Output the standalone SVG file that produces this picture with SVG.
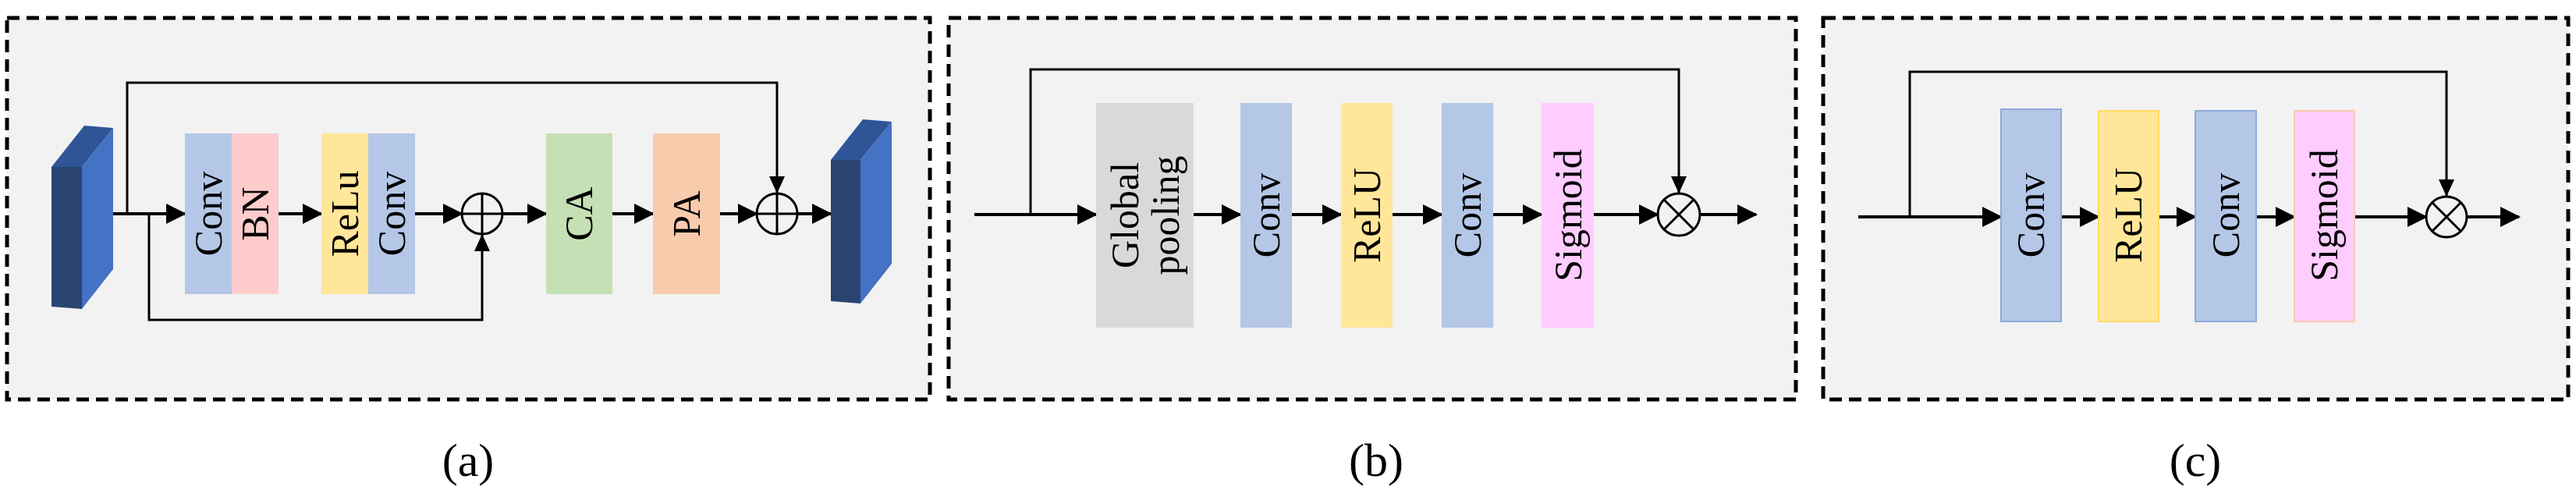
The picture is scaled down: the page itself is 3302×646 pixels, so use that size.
<svg xmlns="http://www.w3.org/2000/svg" width="3302" height="646" viewBox="0 0 3302 646">
<style>
.panel{fill:#f2f2f2;stroke:#000;stroke-width:5;stroke-dasharray:16 9}
.ln{fill:none;stroke:#000;stroke-width:3}
.ar{fill:none;stroke:#000;stroke-width:4;marker-end:url(#ah)}
.lbl{font-family:"Liberation Serif",serif;font-size:50px;fill:#000;text-anchor:middle;dominant-baseline:central}
.cap{font-family:"Liberation Serif",serif;font-size:60px;fill:#000;text-anchor:middle}
.op{fill:none;stroke:#000;stroke-width:3}
</style>
<defs>
<marker id="ah" markerUnits="userSpaceOnUse" markerWidth="26" markerHeight="26" refX="24" refY="13" orient="auto">
<path d="M0,0 L26,13 L0,26 Z" fill="#000"/>
</marker>
</defs>
<rect class="panel" x="9" y="23" width="1183" height="489"/>
<rect class="panel" x="1216" y="23" width="1086" height="489"/>
<rect class="panel" x="2337" y="23" width="955" height="489"/>
<g id="connectors">
<path class="ln" d="M145,274 H163 V106 H996 V248"/>
<path d="M986,226 L1006,226 L996,248 Z"/>
<path class="ar" d="M145,274 H237"/>
<path class="ln" d="M191,274 V410 H618 V300"/>
<path d="M608,322 L628,322 L618,300 Z"/>
<path class="ar" d="M357,274 H412"/>
<path class="ar" d="M532,274 H592"/>
<path class="ar" d="M644,274 H700"/>
<path class="ar" d="M785,274 H837"/>
<path class="ar" d="M923,274 H970"/>
<path class="ar" d="M1022,274 H1065"/>
<path class="ar" d="M1249,275 H1405"/>
<path class="ln" d="M1321,275 V89 H2152 V248"/>
<path d="M2142,226 L2162,226 L2152,248 Z"/>
<path class="ar" d="M1530,275 H1590"/>
<path class="ar" d="M1656,275 H1719"/>
<path class="ar" d="M1785,275 H1848"/>
<path class="ar" d="M1914,275 H1976"/>
<path class="ar" d="M2043,275 H2125"/>
<path class="ar" d="M2179,275 H2251"/>
<path class="ar" d="M2382,278 H2565"/>
<path class="ln" d="M2448,278 V92 H3136 V252"/>
<path d="M3126,230 L3146,230 L3136,252 Z"/>
<path class="ar" d="M2642,278 H2690"/>
<path class="ar" d="M2767,278 H2814"/>
<path class="ar" d="M2892,278 H2941"/>
<path class="ar" d="M3018,278 H3110"/>
<path class="ar" d="M3162,278 H3229"/>
</g>
<g id="in-block"><path d="M66,214 L105,214 L105,396 L66,393 Z" fill="#2a4470"/><path d="M105,214 L145,164 L145,345 L105,396 Z" fill="#4472c4"/><path d="M66,214 L108,161 L145,164 L105,214 Z" fill="#2f5597"/></g>
<g id="out-block"><path d="M1065,205 L1103,205 L1103,389 L1065,386 Z" fill="#2a4470"/><path d="M1103,205 L1143,156 L1143,338 L1103,389 Z" fill="#4472c4"/><path d="M1065,205 L1106,153 L1143,156 L1103,205 Z" fill="#2f5597"/></g>
<g id="a-conv1"><rect x="237" y="171" width="60" height="206" fill="#b4c7e7"/><text class="lbl" transform="translate(267,274) rotate(-90)">Conv</text></g>
<g id="a-bn"><rect x="297" y="171" width="60" height="206" fill="#ffcccc"/><text class="lbl" transform="translate(327,274) rotate(-90)">BN</text></g>
<g id="a-relu"><rect x="412" y="171" width="60" height="206" fill="#ffe699"/><text class="lbl" transform="translate(442,274) rotate(-90)">ReLu</text></g>
<g id="a-conv2"><rect x="472" y="171" width="60" height="206" fill="#b4c7e7"/><text class="lbl" transform="translate(502,274) rotate(-90)">Conv</text></g>
<g id="a-add1"><circle class="op" cx="618" cy="274" r="26"/><path class="op" d="M618,248 V300 M592,274 H644"/></g>
<g id="a-ca"><rect x="700" y="171" width="85" height="206" fill="#c5e0b4"/><text class="lbl" transform="translate(742,274) rotate(-90)">CA</text></g>
<g id="a-pa"><rect x="837" y="171" width="86" height="206" fill="#f8cbad"/><text class="lbl" transform="translate(880,274) rotate(-90)">PA</text></g>
<g id="a-add2"><circle class="op" cx="996" cy="274" r="26"/><path class="op" d="M996,248 V300 M970,274 H1022"/></g>
<g id="b-gp"><rect x="1405" y="132" width="125" height="288" fill="#d9d9d9"/><text class="lbl" transform="translate(1467,276) rotate(-90)"><tspan x="0" dy="-25">Global</tspan><tspan x="0" dy="52">pooling</tspan></text></g>
<g id="b-conv1"><rect x="1590" y="132" width="66" height="288" fill="#b4c7e7"/><text class="lbl" transform="translate(1623,276) rotate(-90)">Conv</text></g>
<g id="b-relu"><rect x="1719" y="132" width="66" height="288" fill="#ffe699"/><text class="lbl" transform="translate(1752,276) rotate(-90)">ReLU</text></g>
<g id="b-conv2"><rect x="1848" y="132" width="66" height="288" fill="#b4c7e7"/><text class="lbl" transform="translate(1881,276) rotate(-90)">Conv</text></g>
<g id="b-sig"><rect x="1976" y="132" width="67" height="288" fill="#ffccff"/><text class="lbl" transform="translate(2010,276) rotate(-90)">Sigmoid</text></g>
<g id="b-mul"><circle class="op" cx="2152" cy="275" r="27"/><path class="op" d="M2133,256 L2171,294 M2171,256 L2133,294"/></g>
<g id="c-conv1"><rect x="2565" y="140" width="77" height="272" fill="#b4c7e7" stroke="#8eaadb" stroke-width="2"/><text class="lbl" transform="translate(2603,276) rotate(-90)">Conv</text></g>
<g id="c-relu"><rect x="2690" y="142" width="77" height="270" fill="#ffe699" stroke="#ffd966" stroke-width="2"/><text class="lbl" transform="translate(2728,276) rotate(-90)">ReLU</text></g>
<g id="c-conv2"><rect x="2814" y="142" width="78" height="270" fill="#b4c7e7" stroke="#8eaadb" stroke-width="2"/><text class="lbl" transform="translate(2853,276) rotate(-90)">Conv</text></g>
<g id="c-sig"><rect x="2941" y="142" width="77" height="270" fill="#ffccff" stroke="#f8cbad" stroke-width="2"/><text class="lbl" transform="translate(2979,276) rotate(-90)">Sigmoid</text></g>
<g id="c-mul"><circle class="op" cx="3136" cy="278" r="26"/><path class="op" d="M3118,260 L3154,296 M3154,260 L3118,296"/></g>
<text class="cap" x="600" y="610">(a)</text>
<text class="cap" x="1764" y="610">(b)</text>
<text class="cap" x="2814" y="610">(c)</text>
</svg>
